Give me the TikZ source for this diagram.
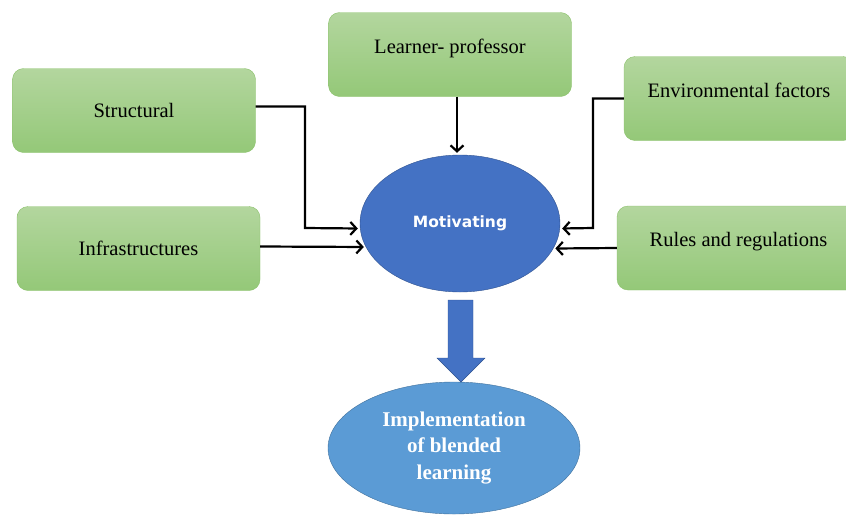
\documentclass[tikz,border=0pt]{standalone}
\usepackage{fontspec}
\setmainfont{Liberation Serif}
\newfontfamily\motfont{DejaVu Sans}
\usetikzlibrary{shapes.geometric,arrows.meta}
\definecolor{boxtop}{HTML}{B3D69E}
\definecolor{boxbot}{HTML}{94C878}
\definecolor{boxline}{HTML}{8CC26C}
\definecolor{motfill}{HTML}{4472C4}
\definecolor{motline}{HTML}{2F528F}
\definecolor{impfill}{HTML}{5B9BD5}
\definecolor{impline}{HTML}{41719C}
\tikzstyle{factor} = [draw=boxline, top color=boxtop, bottom color=boxbot, rounded corners=11pt, minimum width=243pt, minimum height=84pt, font={\fontsize{20.5}{24}\selectfont}]
\tikzstyle{raised} = [text depth=17pt]
\tikzstyle{goal} = [draw=motline, fill=motfill, ellipse, minimum width=200pt, minimum height=137pt, text=white, font={\motfont\bfseries\fontsize{15.5}{19}\selectfont}]
\tikzstyle{result} = [draw=impline, fill=impfill, ellipse, minimum width=252pt, minimum height=132pt, text=white, align=center, font={\bfseries\fontsize{21}{26.5}\selectfont}]
\tikzstyle{link} = [-{Straight Barb[length=6pt,width=13pt]}, line width=2.2pt, shorten >=2pt]
\tikzstyle{bigarrow} = [fill=motfill, draw=motline]

\begin{document}
\begin{tikzpicture}[x=1pt,y=-1pt]
  \useasboundingbox (0,0) rectangle (846,515);
  \clip (0,0) rectangle (846,515);
  \node[factor](str) at (134,110.5){Structural};
  \node[factor](inf) at (138.5,248.5){Infrastructures};
  \node[factor,raised](lp) at (450,54.5){Learner- professor};
  \node[factor,raised,minimum width=230pt](env) at (739,98.5){Environmental factors};
  \node[factor,raised](rul) at (738.5,248){Rules and regulations};
  \node[goal](mot) at (460,223.5){Motivating};
  \node[result](imp) at (454,448){Implementation\\of blended\\learning};
  \draw[link]([yshift=4pt]str.east) -| (305,228) -- ([yshift=-5pt]mot.west);
  \draw[link]([yshift=2pt]inf.east) -- (mot.194);
  \draw[link]([xshift=7pt]lp.south) -- ([xshift=-3pt]mot.north);
  \draw[link](env.west) -| (593,228) -- ([yshift=-5pt]mot.east);
  \draw[link](rul.west) -- (mot.-15);
  \draw[bigarrow](448,300) -- (473,300) -- (473,358) -- (485,358) -- (461,382) -- (437,358) -- (448,358) -- cycle;
\end{tikzpicture}
\end{document}
